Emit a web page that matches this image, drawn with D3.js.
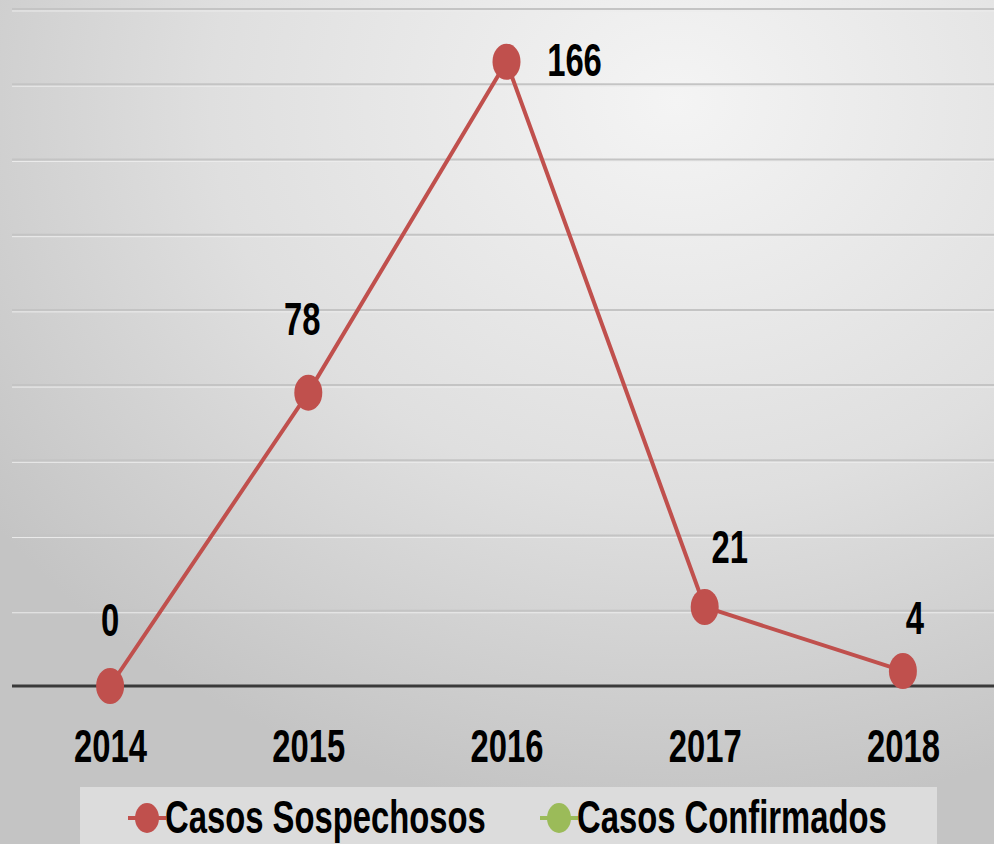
<!DOCTYPE html>
<meta charset="utf-8">
<style>
body { margin: 0; overflow: hidden; }
text { font-family: "Liberation Sans", Arial, sans-serif; font-weight: bold; fill: #000; }
.grid line { stroke: #c4c4c4; stroke-width: 2px; }
</style>
<svg width="994" height="844"></svg>
<script src="https://cdn.jsdelivr.net/npm/d3@7"></script>
<script>

var years = ["2014", "2015", "2016", "2017", "2018"];
var sospechosos = [0, 78, 166, 21, 4];
var confirmados = [null, null, null, null, null];
var yTicks = [0, 20, 40, 60, 80, 100, 120, 140, 160, 180];
var seriesNames = ["Casos Sospechosos", "Casos Confirmados"];
var seriesColors = ["#c0504d", "#9bbb59"];

var svg = d3.select("svg"),
    width = +svg.attr("width"),
    height = +svg.attr("height");

// narrow look: the source font is condensed and a bit tall
var squash = " scale(0.8,1.12)";

// background
var defs = svg.append("defs");
var grad = defs.append("radialGradient")
    .attr("id", "bg")
    .attr("cx", "68%").attr("cy", "12%").attr("r", "85%");
grad.append("stop").attr("offset", "0%").attr("stop-color", "#f4f4f4");
grad.append("stop").attr("offset", "55%").attr("stop-color", "#dfdfdf");
grad.append("stop").attr("offset", "100%").attr("stop-color", "#c4c4c4");
svg.append("rect").attr("width", width).attr("height", height).attr("fill", "url(#bg)");

var x = d3.scalePoint().domain(years).range([11, 1002]).padding(0.5);
var y = d3.scaleLinear().domain([0, 180]).range([686, 9]);

// gridlines
var grid = svg.append("g").attr("class", "grid");
grid.selectAll("line.shadow")
    .data(yTicks.filter(function(d) { return d > 0; }))
    .enter().append("line")
    .attr("x1", 12).attr("x2", width)
    .attr("y1", function(d) { return y(d) + 2; })
    .attr("y2", function(d) { return y(d) + 2; })
    .style("stroke", "#ececec").style("stroke-width", "1px");
grid.selectAll("line.main")
    .data(yTicks.filter(function(d) { return d > 0; }))
    .enter().append("line")
    .attr("x1", 12).attr("x2", width)
    .attr("y1", function(d) { return y(d); })
    .attr("y2", function(d) { return y(d); });

// baseline
svg.append("line")
    .attr("x1", 12).attr("x2", width)
    .attr("y1", y(0)).attr("y2", y(0))
    .attr("stroke", "#3a3a3a").attr("stroke-width", 3);

// x axis labels
var xAxis = d3.axisBottom(x).tickSize(0).tickPadding(0);
var gx = svg.append("g").attr("transform", "translate(0," + y(0) + ")").call(xAxis);
gx.select(".domain").remove();
gx.selectAll("text")
    .attr("y", 0).attr("dy", null)
    .attr("transform", "translate(0,76)" + squash)
    .style("font-size", "41px")
    .style("font-family", "\"Liberation Sans\", Arial, sans-serif")
    .style("font-weight", "bold")
    .attr("fill", "#000");

// series line
var pts = years.map(function(yr, i) { return { year: yr, value: sospechosos[i] }; });
var line = d3.line()
    .defined(function(d) { return d.value != null; })
    .x(function(d) { return x(d.year); })
    .y(function(d) { return y(d.value); });

svg.append("path")
    .datum(pts)
    .attr("fill", "none")
    .attr("stroke", seriesColors[0])
    .attr("stroke-width", 4)
    .attr("d", line);

svg.selectAll("ellipse.pt")
    .data(pts)
    .enter().append("ellipse")
    .attr("class", "pt")
    .attr("cx", function(d) { return x(d.year); })
    .attr("cy", function(d) { return y(d.value); })
    .attr("rx", 14).attr("ry", 18)
    .attr("fill", seriesColors[0]);

// data labels (placement per point)
var labelPlace = {
  "2014": [0, -50],
  "2015": [-6, -58],
  "2016": [68, 14],
  "2017": [25, -44],
  "2018": [12, -37]
};
svg.selectAll("text.lbl")
    .data(pts)
    .enter().append("text")
    .attr("class", "lbl")
    .attr("text-anchor", "middle")
    .attr("transform", function(d) {
      var o = labelPlace[d.year];
      return "translate(" + (x(d.year) + o[0]) + "," + (y(d.value) + o[1]) + ")" + squash;
    })
    .style("font-size", "41px")
    .text(function(d) { return d.value; });

// legend
var legend = svg.append("g");
legend.append("rect")
    .attr("x", 80).attr("y", 787).attr("width", 857).attr("height", 70)
    .attr("fill", "#dcdcdc");

var legendX = [128, 540];
seriesNames.forEach(function(name, i) {
  var g = legend.append("g").attr("transform", "translate(" + legendX[i] + ",818)");
  g.append("line").attr("x1", 0).attr("x2", 38).attr("y1", 0).attr("y2", 0)
      .attr("stroke", seriesColors[i]).attr("stroke-width", 4);
  g.append("ellipse").attr("cx", 19).attr("cy", 0).attr("rx", 12).attr("ry", 15)
      .attr("fill", seriesColors[i]);
  g.append("text")
      .attr("transform", "translate(37,15)" + squash)
      .style("font-size", "41px")
      .text(name);
});

</script>
